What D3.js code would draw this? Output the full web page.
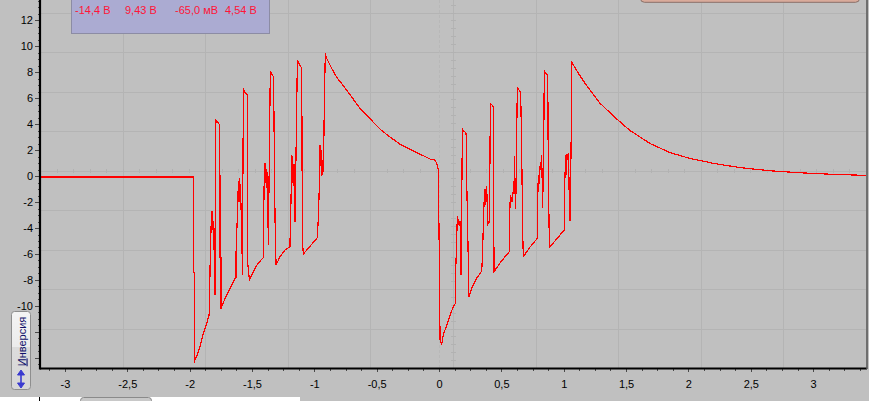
<!DOCTYPE html>
<html><head><meta charset="utf-8">
<script src="https://cdn.jsdelivr.net/npm/d3@7"></script>
<style>
body{margin:0;background:#c0c0c0;}
svg{display:block;font-family:"Liberation Sans",Arial,sans-serif;}
</style>
</head><body><svg id="c" width="869" height="401"></svg>
<script>
// ---- data (seconds, volts) ----
const traceTime = [
-3.2,-1.970,-1.970,-1.962,-1.962,-1.957,-1.941,-1.917,-1.893,-1.868,-1.844,-1.840,-1.836,-1.828,-1.820,-1.816,-1.812,-1.808,-1.804,-1.800,-1.798,-1.796,-1.794,-1.788,-1.776,-1.758,-1.756,-1.748,-1.748,-1.716,-1.690,-1.662,-1.636,-1.628,-1.628,-1.617,-1.609,-1.604,-1.600,-1.596,-1.592,-1.588,-1.582,-1.577,-1.569,-1.561,-1.542,-1.534,-1.534,-1.521,-1.502,-1.476,-1.449,-1.414,-1.409,-1.409,-1.403,-1.395,-1.391,-1.387,-1.383,-1.379,-1.375,-1.369,-1.361,-1.353,-1.340,-1.327,-1.323,-1.315,-1.307,-1.275,-1.235,-1.195,-1.195,-1.187,-1.181,-1.177,-1.173,-1.169,-1.163,-1.159,-1.155,-1.147,-1.136,-1.120,-1.101,-1.096,-1.088,-1.034,-0.976,-0.968,-0.960,-0.954,-0.950,-0.946,-0.942,-0.938,-0.933,-0.926,-0.920,-0.912,-0.901,-0.861,-0.821,-0.740,-0.634,-0.553,-0.473,-0.393,-0.313,-0.192,-0.112,-0.072,-0.046,-0.032,-0.018,-0.006,
0.002,0.008,0.022,0.034,0.062,0.088,0.115,0.134,0.134,0.142,0.147,0.152,0.156,0.160,0.168,0.174,0.176,0.182,0.187,0.200,0.217,0.222,0.235,0.238,0.262,0.302,0.342,0.347,0.355,0.361,0.365,0.369,0.375,0.382,0.388,0.393,0.403,0.409,0.411,0.425,0.435,0.441,0.489,0.529,0.564,0.564,0.572,0.577,0.583,0.588,0.596,0.601,0.604,0.609,0.615,0.623,0.628,0.642,0.655,0.663,0.671,0.676,0.730,0.788,0.788,0.796,0.804,0.812,0.818,0.823,0.828,0.831,0.840,0.844,0.858,0.872,0.876,0.885,0.938,1.005,1.005,1.016,1.021,1.026,1.032,1.037,1.042,1.045,1.051,1.059,1.064,1.077,1.117,1.171,1.291,1.411,1.532,1.692,1.852,2.013,2.213,2.414,2.654,2.895,3.176,3.424];
const traceVolts = [
-0.08,-0.08,-7.4,-7.4,-14.4,-14.1,-13.8,-13.1,-12.2,-11.5,-10.7,-9.15,-6.9,-3.9,-2.7,-4.15,-3.5,-5.7,-4.0,-5.85,-4.9,-9.15,3.46,4.3,4.15,3.9,-6.3,-6.3,-10.2,-9.4,-8.9,-8.4,-7.87,-7.8,-6.0,-3.0,-0.4,-2.0,-0.15,-1.8,-0.6,-2.4,-3.9,-7.6,6.75,6.5,6.3,6.2,-6.7,-8.0,-7.6,-7.1,-6.7,-6.33,-6.3,-5.3,-0.82,0.97,-0.5,0.5,-0.9,0.3,-0.6,-5.3,1.36,8.08,7.8,7.64,3.8,-3.4,-6.85,-6.2,-5.7,-5.44,-5.05,-1.85,1.6,-0.5,1.5,-0.8,0.9,-0.4,-3.5,1.6,8.9,8.6,8.3,-5.05,-6.0,-5.4,-4.75,-3.25,-0.82,2.4,0.8,2.0,0.0,1.2,0.1,1.0,5.5,9.43,9.05,8.28,7.6,6.6,5.2,4.4,3.6,3.0,2.45,1.85,1.5,1.3,1.28,1.2,0.97,0.46,
-6.0,-12.6,-12.95,-12.2,-11.5,-10.7,-10.05,-9.75,-7.2,-4.65,-3.1,-3.6,-3.3,-3.8,-3.5,-4.0,-7.6,-2.0,3.6,3.45,3.3,-0.4,-6.7,-9.33,-8.65,-7.87,-7.3,-6.4,-4.0,-2.0,-2.4,-1.0,-2.2,-0.8,-2.6,-3.7,-3.6,1.75,5.6,5.45,5.33,-7.36,-6.7,-6.2,-5.82,-3.7,-1.46,-2.0,-1.6,-2.0,-0.95,-1.4,1.5,-0.95,-2.5,3.4,6.87,6.6,6.4,1.87,-4.3,-6.2,-5.46,-4.8,-3.2,0.08,-0.6,1.1,0.5,1.6,-0.8,-2.44,2.9,8.08,7.9,7.77,0.6,-5.5,-4.9,-4.15,-1.33,1.6,0.1,1.7,1.2,1.75,-0.3,-2.2,-3.44,2.33,8.75,8.54,7.9,7.13,5.6,4.5,3.5,2.5,1.8,1.35,0.95,0.65,0.4,0.25,0.12,0.05];
const xTickValues = [-3,-2.5,-2,-1.5,-1,-0.5,0,0.5,1,1.5,2,2.5,3];
const xTickLabels = ["-3","-2,5","-2","-1,5","-1","-0,5","0","0,5","1","1,5","2","2,5","3"];
const yTickValues = [-14,-12,-10,-8,-6,-4,-2,0,2,4,6,8,10,12];
const yTickLabels = ["","","-10","-8","-6","-4","-2","0","2","4","6","8","10","12"];
const legendLabels = ["-14,4 В","9,43 В","-65,0 мВ","4,54 В"];
const buttonLabel = "Инверсия";
const xDomain = [-3.2, 3.424];
const yDomain = [-14.77, 13.54];
const gridStepV = 3.038;

// ---- layout ----
const svg = d3.select("#c");
const P = {left:40, right:866, top:0, bottom:368};
const x = d3.scaleLinear().domain(xDomain).range([P.left, P.right]);
const y = d3.scaleLinear().domain(yDomain).range([P.bottom, P.top]);

svg.append("rect").attr("width",869).attr("height",401).attr("fill","#c0c0c0");

// grid
const g = svg.append("g").attr("shape-rendering","crispEdges");
const gxStep = (xDomain[1]-xDomain[0])/10;
const gridX = d3.range(1,10).map(k=>xDomain[0]+k*gxStep);
const gridY = d3.range(1,10).map(k=>yDomain[0]+k*gridStepV);
g.selectAll(".gx").data(gridX).join("line")
  .attr("x1",d=>Math.round(x(d))+0.5).attr("x2",d=>Math.round(x(d))+0.5)
  .attr("y1",P.top).attr("y2",P.bottom).attr("stroke","#b4b4b4");
g.selectAll(".gy").data(gridY).join("line")
  .attr("y1",d=>Math.round(y(d))+0.5).attr("y2",d=>Math.round(y(d))+0.5)
  .attr("x1",P.left).attr("x2",P.right).attr("stroke","#b4b4b4");
// centre ticks
const cx = gridX[4], cy = gridY[4];
const hTicks = d3.range(1,50).map(k=>xDomain[0]+k*gxStep/5);
g.selectAll(".ht").data(hTicks).join("line")
  .attr("x1",d=>Math.round(x(d))+0.5).attr("x2",d=>Math.round(x(d))+0.5)
  .attr("y1",Math.round(y(cy))-2).attr("y2",Math.round(y(cy))+2).attr("stroke","#b2b2b2");
const vTicks = d3.range(1,50).map(k=>yDomain[0]+k*gridStepV/5);
g.selectAll(".vt").data(vTicks).join("line")
  .attr("y1",d=>Math.round(y(d))+0.5).attr("y2",d=>Math.round(y(d))+0.5)
  .attr("x1",Math.round(x(cx))-2).attr("x2",Math.round(x(cx))+3).attr("stroke","#b2b2b2");
// trigger marker at t=0
g.append("line").attr("x1",Math.round(x(0))+0.5).attr("x2",Math.round(x(0))+0.5)
  .attr("y1",P.top).attr("y2",P.bottom).attr("stroke","#b8b8b8").attr("stroke-dasharray","3,2");

// trace
svg.append("clipPath").attr("id","clip").append("rect")
  .attr("x",P.left+1).attr("y",P.top).attr("width",P.right-P.left-1).attr("height",P.bottom-P.top);
const pts = traceTime.map((t,i)=>[t,traceVolts[i]]);
svg.append("path").datum(pts)
  .attr("clip-path","url(#clip)")
  .attr("d",d3.line().x(d=>x(d[0])).y(d=>y(d[1])))
  .attr("fill","none").attr("stroke","#ff0000").attr("stroke-width",1.2)
  .attr("shape-rendering","crispEdges")
  .attr("stroke-linejoin","miter");

// axes
const axB = svg.append("g").attr("transform",`translate(0,${P.bottom})`);
axB.call(d3.axisBottom(x).tickValues(d3.range(-3.125,3.42,0.125)).tickSize(3).tickFormat(""));
axB.call(g2=>g2.select(".domain").remove());
const axBM = svg.append("g").attr("transform",`translate(0,${P.bottom})`)
  .call(d3.axisBottom(x).tickValues(xTickValues).tickSize(4).tickPadding(8)
        .tickFormat((d,i)=>xTickLabels[i]));
axBM.select(".domain").remove();

const axL = svg.append("g").attr("transform",`translate(${P.left},0)`);
axL.call(d3.axisLeft(y).tickValues(d3.range(-14.5,13.6,0.5)).tickSize(2).tickFormat(""));
axL.select(".domain").remove();
const axLM = svg.append("g").attr("transform",`translate(${P.left},0)`)
  .call(d3.axisLeft(y).tickValues(yTickValues).tickSize(5).tickPadding(2)
        .tickFormat((d,i)=>yTickLabels[i]));
axLM.select(".domain").remove();
svg.selectAll(".tick line").attr("stroke","#4a4a4a").attr("shape-rendering","crispEdges");
svg.selectAll(".tick text").attr("fill","#000").attr("font-size",11)
  .attr("font-family","'Liberation Sans',Arial,sans-serif");

svg.append("line").attr("x1",P.left).attr("x2",P.right+1).attr("y1",P.bottom+0.5).attr("y2",P.bottom+0.5)
  .attr("stroke","#000").attr("stroke-width",2.2);
svg.append("line").attr("x1",P.left).attr("x2",P.left).attr("y1",0).attr("y2",P.bottom+1.5)
  .attr("stroke","#000").attr("stroke-width",2.2);
svg.append("line").attr("x1",P.right+1).attr("x2",P.right+1).attr("y1",0).attr("y2",P.bottom+1)
  .attr("stroke","#5a5a5a").attr("stroke-width",1.6);

// legend box
svg.append("rect").attr("x",71.5).attr("y",-20).attr("width",198).attr("height",53.5)
  .attr("fill","#ababd2").attr("stroke","#8c8ca4");
svg.selectAll(".lg").data(legendLabels).join("text")
  .attr("x",(d,i)=>75+i*50).attr("y",14).attr("font-size",11).attr("fill","#ff1438").text(d=>d);

// top-right panel
svg.append("rect").attr("x",640.5).attr("y",-20).attr("width",219).attr("height",22.3).attr("rx",4)
  .attr("fill","#d9ab9b").attr("stroke","#8a7068");

// bottom strip
svg.append("rect").attr("x",0).attr("y",397).attr("width",300).attr("height",4).attr("fill","#ffffff");
svg.append("line").attr("x1",39.5).attr("x2",39.5).attr("y1",397).attr("y2",401).attr("stroke","#000");
svg.append("rect").attr("x",80.5).attr("y",397.5).attr("width",71).attr("height",10).attr("rx",3)
  .attr("fill","#c8c8c8").attr("stroke","#8a8a8a");

// button
const defs = svg.append("defs");
const grad = defs.append("linearGradient").attr("id","bg").attr("x1",0).attr("x2",0).attr("y1",0).attr("y2",1);
grad.append("stop").attr("offset","0%").attr("stop-color","#f4f4f4");
grad.append("stop").attr("offset","45%").attr("stop-color","#ececec");
grad.append("stop").attr("offset","46%").attr("stop-color","#dcdcdc");
grad.append("stop").attr("offset","100%").attr("stop-color","#d6d6d6");
svg.append("rect").attr("x",11.5).attr("y",311.5).attr("width",19).attr("height",78).attr("rx",3)
  .attr("fill","url(#bg)").attr("stroke","#8e8e8e");
const bt = svg.append("text").attr("transform","translate(25.5,341.5) rotate(-90)")
  .attr("text-anchor","middle").attr("font-size",11).attr("fill","#10106a");
bt.append("tspan").attr("text-decoration","underline").text(buttonLabel[0]);
bt.append("tspan").text(buttonLabel.slice(1));
const ar = svg.append("g").attr("fill","#3a3ad0").attr("stroke","#3a3ad0");
ar.append("line").attr("x1",21).attr("x2",21).attr("y1",374).attr("y2",384).attr("stroke-width",1.6);
ar.append("path").attr("d","M17.5,375 L21,370 L24.5,375 Z");
ar.append("path").attr("d","M17.5,383 L21,388 L24.5,383 Z");
</script></body></html>
